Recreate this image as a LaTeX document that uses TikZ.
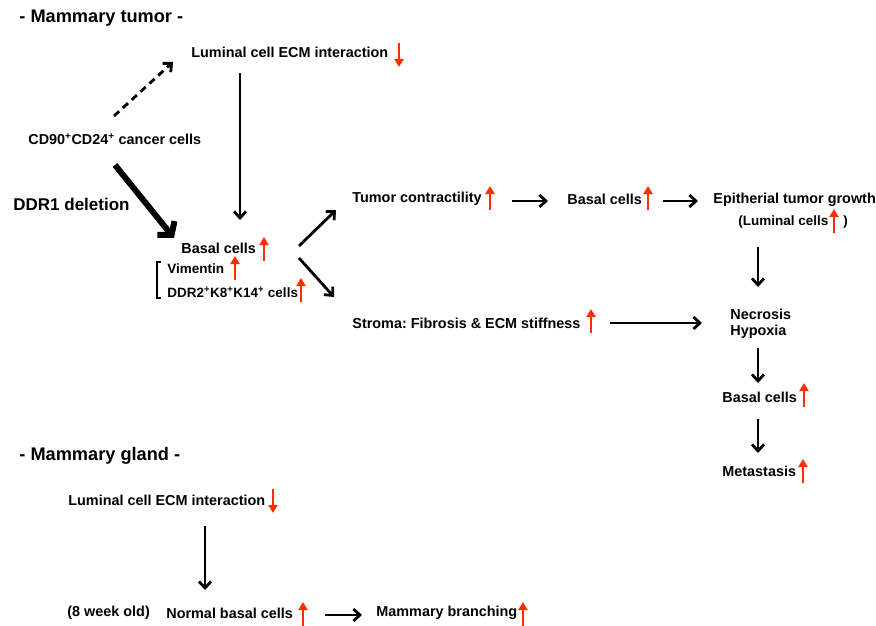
\documentclass[tikz,border=0pt]{standalone}
\usepackage{fontspec}
\setmainfont{Liberation Sans}
\usetikzlibrary{arrows.meta}
\definecolor{upred}{RGB}{255,45,0}
\begin{document}
\begin{tikzpicture}[x=1pt,y=-1pt,line width=2.8pt,
  txt/.style={anchor=west,inner sep=0pt,font=\fontsize{14.4}{17}\selectfont\bfseries\frenchspacing},
  small/.style={anchor=west,inner sep=0pt,font=\fontsize{13.5}{16}\selectfont\bfseries},
  head/.style={anchor=west,inner sep=0pt,font=\fontsize{18.2}{22}\selectfont\bfseries},
  blk/.style={-{Straight Barb[length=6.5pt,width=12pt]}},
  redup/.style={upred,line width=2.4pt,-{Triangle[length=8pt,width=9pt]}}]
\useasboundingbox (0,0) rectangle (876,626);
% mammary tumor
\node[head] (tumT) at (18,18) {- Mammary tumor -};
\node[txt] (lumT) at (190,52) {Luminal cell ECM interaction};
\node[txt] (cd) at (27,139) {CD90\textsuperscript{+}CD24\textsuperscript{+} cancer cells};
\node[head,font=\fontsize{17}{20}\selectfont\bfseries] (ddr) at (12,204) {DDR1 deletion};
\node[txt] (basT) at (180,248) {Basal cells};
\node[small] (vim) at (166,269) {Vimentin};
\node[small] (ddrk) at (166,292) {DDR2\textsuperscript{+}K8\textsuperscript{+}K14\textsuperscript{+} cells};
\node[txt] (con) at (351,199) {Tumor contractility};
\node[txt] (bas2) at (566,199) {Basal cells};
\node[txt] (epi) at (712,200) {Epitherial tumor growth};
\node[small] (lumc) at (737,222) {(Luminal cells};
\node[small] (lumr) at (842,222) {)};
\node[txt] (str) at (351,323) {Stroma: Fibrosis \& ECM stiffness};
\node[txt] (nec) at (729,314) {Necrosis};
\node[txt] (hyp) at (729,332) {Hypoxia};
\node[txt] (bas3) at (721,397) {Basal cells};
\node[txt] (met) at (721,471) {Metastasis};
% mammary gland
\node[head] (glT) at (18,456) {- Mammary gland -};
\node[txt] (lumG) at (67,500) {Luminal cell ECM interaction};
\node[txt] (wk) at (66,613) {(8 week old)};
\node[txt] (nbas) at (165,613) {Normal basal cells};
\node[txt] (bra) at (375,613) {Mammary branching};
% arrow ends
\coordinate (d1) at (114,116); \coordinate (d2) at (173,62);
\coordinate (t1) at (115,165); \coordinate (t2) at (174,238);
\coordinate (v1) at (240,73); \coordinate (v2) at (240,220);
\coordinate (f0) at (299,246); \coordinate (f1) at (336,210);
\coordinate (g0) at (299,258); \coordinate (g1) at (334,297);
\coordinate (h1) at (512,201); \coordinate (h2) at (548,201);
\coordinate (k1) at (663,201); \coordinate (k2) at (698,201);
\coordinate (s1) at (610,323); \coordinate (s2) at (702,323);
\coordinate (w1) at (205,526); \coordinate (w2) at (205,590);
\coordinate (b1) at (325,615); \coordinate (b2) at (362,615);
\draw[blk,dash pattern=on 7pt off 5pt] (d1)--(d2);
\draw[-{Straight Barb[length=9pt,width=22pt]},line width=6pt] (t1)--(t2);
\draw[blk] (v1)--(v2); \draw[blk] (f0)--(f1); \draw[blk] (g0)--(g1);
\draw[blk] (h1)--(h2); \draw[blk] (k1)--(k2); \draw[blk] (s1)--(s2);
\draw[blk] (w1)--(w2); \draw[blk] (b1)--(b2);
\foreach \a/\b in {247/287,348/383,419/453} \draw[blk] (758,\a)--(758,\b);
% bracket
\draw[line width=1.2pt] (161,262)--(157,262)--(157,298)--(161,298);
% red arrows
\foreach \x/\y in {264/249,235/268,301/290,490/198,648/198,834/221,591/321,804/395,803/471,303/614,523/614}
  \draw[redup] (\x,\y+12)--(\x,\y-12);
\foreach \x/\y in {399/55,273/501}
  \draw[redup] (\x,\y-12)--(\x,\y+12);
\end{tikzpicture}
\end{document}
